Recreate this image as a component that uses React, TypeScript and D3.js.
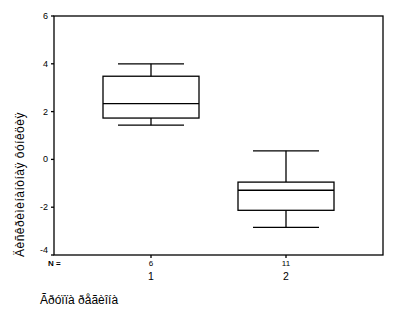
import React from "react";
import * as d3 from "d3";

const categories = ["1", "2"];
const counts = ["6", "11"];
const whiskerLow = [1.43, -2.84];
const q1 = [1.73, -2.13];
const median = [2.33, -1.29];
const q3 = [3.48, -0.95];
const whiskerHigh = [4.0, 0.36];
const yTicks = [6, 4, 2, 0, -2, -4];
const yLabel = "Äèñêðèìèíàíòíàÿ ôóíêöèÿ";
const xLabel = "Ãðóïïà ðåãèîíà";

export default function App() {
  const W = 400, H = 319;
  const left = 54, right = 383, top = 16, bottom = 255;
  const y = d3.scaleLinear().domain([-4, 6]).range([bottom, top]);
  const x = d3.scalePoint<string>().domain(categories).range([left, right]).padding(0.7185);
  const boxW = 96, whW = 66;
  const font = "'Liberation Sans', Arial, sans-serif";
  const sw = 1.3;
  return (
    <svg width={W} height={H} style={{ position: "absolute", left: 0, top: 0 }} fontFamily={font}>
      <rect x={0} y={0} width={W} height={H} fill="#fff" />
      <rect x={left} y={top} width={right - left} height={bottom - top} fill="none" stroke="#000" strokeWidth={sw} />
      {yTicks.map((t) => (
        <g key={t}>
          <line x1={left - 3} x2={left} y1={y(t)} y2={y(t)} stroke="#000" strokeWidth={sw} />
          <text x={left - 6} y={t === -4 ? y(t) - 2 : y(t) + 3} textAnchor="end" fontSize={9} fill="#000">{t}</text>
        </g>
      ))}
      {categories.map((c, i) => {
        const cx = x(c)!;
        return (
          <g key={c}>
            <line x1={cx} x2={cx} y1={bottom} y2={bottom + 3} stroke="#000" strokeWidth={sw} />
            <line x1={cx} x2={cx} y1={y(whiskerHigh[i])} y2={y(q3[i])} stroke="#000" strokeWidth={sw} />
            <line x1={cx} x2={cx} y1={y(q1[i])} y2={y(whiskerLow[i])} stroke="#000" strokeWidth={sw} />
            <line x1={cx - whW / 2} x2={cx + whW / 2} y1={y(whiskerHigh[i])} y2={y(whiskerHigh[i])} stroke="#000" strokeWidth={sw} />
            <line x1={cx - whW / 2} x2={cx + whW / 2} y1={y(whiskerLow[i])} y2={y(whiskerLow[i])} stroke="#000" strokeWidth={sw} />
            <rect x={cx - boxW / 2} y={y(q3[i])} width={boxW} height={y(q1[i]) - y(q3[i])} fill="none" stroke="#000" strokeWidth={sw} />
            <line x1={cx - boxW / 2} x2={cx + boxW / 2} y1={y(median[i])} y2={y(median[i])} stroke="#000" strokeWidth={sw} />
            <text x={cx} y={266} textAnchor="middle" fontSize={8} fill="#000">{counts[i]}</text>
            <text x={cx} y={280} textAnchor="middle" fontSize={10.5} fill="#000">{c}</text>
          </g>
        );
      })}
      <text x={48} y={266} fontSize={8} fontWeight="bold" fill="#000">N =</text>
      <text transform={`translate(24,257) rotate(-90)`} fontSize={12} letterSpacing={0.5} fill="#000">{yLabel}</text>
      <text x={40} y={304} fontSize={12} fill="#000">{xLabel}</text>
    </svg>
  );
}
